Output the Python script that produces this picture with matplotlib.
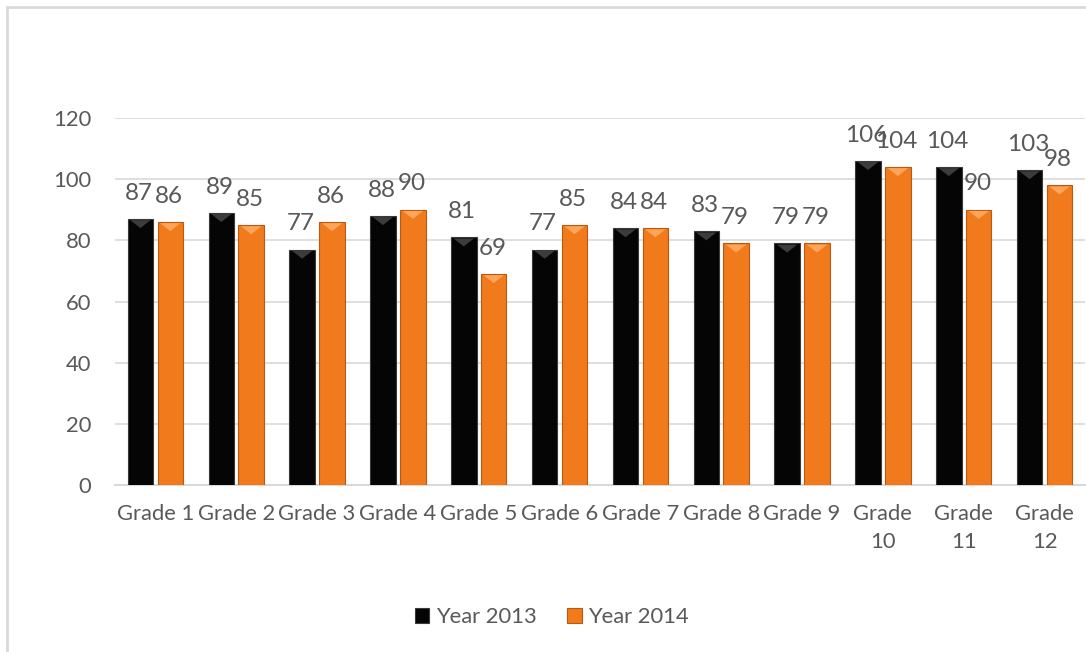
import matplotlib.pyplot as plt
from matplotlib.patches import Rectangle
import numpy as np

# Data
grades = ["Grade 1", "Grade 2", "Grade 3", "Grade 4", "Grade 5", "Grade 6",
          "Grade 7", "Grade 8", "Grade 9", "Grade\n10", "Grade\n11", "Grade\n12"]
year_2013 = [87, 89, 77, 88, 81, 77, 84, 83, 79, 106, 104, 103]
year_2014 = [86, 85, 86, 90, 69, 85, 84, 79, 79, 104, 90, 98]
series_names = ["Year 2013", "Year 2014"]
y_ticks = [0, 20, 40, 60, 80, 100, 120]

TEXT_COLOR = "#595959"
GRID_COLOR = "#d9d9d9"
BLACK = "#050505"
ORANGE = "#f07a1c"
plt.rcParams['font.family'] = ['Lato', 'DejaVu Sans']

fig = plt.figure(figsize=(10.86, 6.52), dpi=100)
ax = fig.add_axes([115/1086, 1-485/652, (1085-115)/1086, (485-118)/652])

x = np.arange(len(grades))
width = 0.315
offset = 0.185
bars1 = ax.bar(x - offset, year_2013, width, color=BLACK, edgecolor="#3a3a3a",
               linewidth=0.8, label=series_names[0], zorder=3)
bars2 = ax.bar(x + offset, year_2014, width, color=ORANGE, edgecolor="#b85a12",
               linewidth=0.8, label=series_names[1], zorder=3)

# small bevel highlight at the top of each bar
for bars, hl in ((bars1, "#3c3c3c"), (bars2, "#ffa55a")):
  for b in bars:
    x0 = b.get_x()
    w = b.get_width()
    h = b.get_height()
    ax.fill([x0 + 0.1*w, x0 + 0.9*w, x0 + 0.5*w], [h - 0.4, h - 0.4, h - 3.0],
            color=hl, zorder=4, linewidth=0)

# Data labels
for bars in (bars1, bars2):
  for b in bars:
    ax.annotate(f"{b.get_height():.0f}", xy=(b.get_x() + b.get_width()/2, b.get_height()),
                xytext=(-1, 11), textcoords="offset points", ha="center", va="bottom",
                fontsize=17.5, color=TEXT_COLOR)

ax.set_xlim(-0.5, len(grades) - 0.5)
ax.set_ylim(0, 120)
ax.set_yticks(y_ticks)
ax.set_xticks(x)
ax.set_xticklabels(grades, linespacing=1.5)
ax.tick_params(axis="both", length=0, labelsize=15.8, labelcolor=TEXT_COLOR)
ax.tick_params(axis="x", pad=14)
ax.tick_params(axis="y", pad=17)
ax.grid(axis="y", color=GRID_COLOR, linewidth=1.2, zorder=0)
for s in ("top", "right", "left"):
  ax.spines[s].set_visible(False)
ax.spines["bottom"].set_color(GRID_COLOR)
ax.spines["bottom"].set_linewidth(1.5)

fig.legend(handles=[bars1, bars2], labels=series_names, loc="center",
           bbox_to_anchor=(552/1086, 1-617/652), ncol=2, frameon=False,
           fontsize=15.8, labelcolor=TEXT_COLOR, handlelength=0.65, handleheight=0.65,
           columnspacing=1.4, handletextpad=0.3)

# Outer chart border
fig.patches.append(Rectangle((7/1086, -0.1), 1.2, 1 - 7/652 + 0.1, transform=fig.transFigure,
                             fill=False, edgecolor=GRID_COLOR, linewidth=2))

fig.savefig("out.png", dpi=100)
